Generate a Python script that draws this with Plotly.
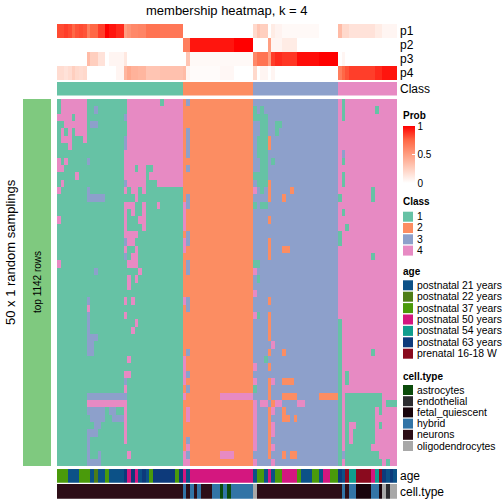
import plotly.graph_objects as go

W = H = 504
FONT = "Liberation Sans, Arial, Helvetica, sans-serif"

# ---------------- data ----------------
n_cols = 92
# consensus class of every sample (column)
column_class = ("1111111111111111111111111111111111"      # 34
                "2222222222222222222"                     # 19
                "33333333333333333333333"                 # 23
                "4444444444444444")                       # 16

p1 = [0.82, 0.82, 0.85, 0.82, 0.75, 0.80, 0.82, 0.80, 0.65, 0.75,
      0.75, 0.85, 0.85, 1.00, 0.95, 0.95, 0.90, 0.90, 0.50, 0.55,
      0.60, 0.60, 0.62, 0.62, 0.70, 0.70, 0.70, 0.70, 0.68, 0.68,
      0.68, 0.68, 0.68, 0.68,
      0, 0, 0, 0, 0, 0, 0, 0, 0, 0, 0, 0, 0, 0, 0, 0, 0, 0, 0,
      0.20, 0.30, 0.25, 0.25, 0.00, 0.10, 0.06, 0.06, 0.03, 0.03,
      0.03, 0.03, 0.03, 0.03, 0.03, 0.03, 0.03, 0.03, 0.00, 0.00,
      0.00, 0.00, 0.00,
      0.35, 0.20, 0.20, 0.15, 0.15, 0.15, 0.15, 0.15, 0.15, 0.15,
      0.10, 0.10, 0.05, 0.05, 0.05, 0.05]
p2 = [0.0, 0.0, 0.0, 0.0, 0.0, 0.0, 0.0, 0.0, 0.0, 0.0,
      0.0, 0.0, 0.0, 0.0, 0.0, 0.0, 0.0, 0.0, 0.0, 0.0,
      0.0, 0.0, 0.0, 0.0, 0.0, 0.0, 0.0, 0.0, 0.0, 0.0,
      0.0, 0.0, 0.0, 0.0,
      0.65, 0.65, 0.95, 0.95, 0.95, 0.95, 0.95, 0.95, 0.95, 0.95,
      0.95, 0.95, 0.95, 0.95, 1.00, 1.00, 1.00, 1.00, 1.00,
      0.00, 0.00, 0.00, 0.00, 0.50, 0.05, 0.05, 0.05, 0.10, 0.10,
      0.10, 0.10, 0.00, 0.00, 0.00, 0.00, 0.00, 0.00, 0.00, 0.00,
      0.00, 0.00, 0.00,
      0.0, 0.0, 0.0, 0.0, 0.0, 0.0, 0.0, 0.0, 0.0, 0.0,
      0.0, 0.0, 0.0, 0.0, 0.0, 0.0]
p3 = [0.00, 0.00, 0.00, 0.00, 0.00, 0.00, 0.00, 0.00, 0.35, 0.25,
      0.25, 0.15, 0.15, 0.00, 0.05, 0.05, 0.05, 0.05, 0.12, 0.00,
      0.00, 0.00, 0.00, 0.00, 0.00, 0.00, 0.00, 0.00, 0.00, 0.00,
      0.00, 0.00, 0.00, 0.00,
      0.00, 0.30, 0.03, 0.03, 0.03, 0.03, 0.03, 0.03, 0.03, 0.03,
      0.03, 0.03, 0.03, 0.03, 0.03, 0.03, 0.03, 0.03, 0.03,
      0.60, 0.70, 0.70, 0.70, 0.50, 0.85, 0.90, 0.90, 0.87, 0.87,
      0.87, 0.87, 0.97, 0.97, 0.97, 0.97, 0.97, 0.97, 1.00, 1.00,
      1.00, 1.00, 1.00,
      0.00, 0.05, 0.00, 0.00, 0.00, 0.00, 0.00, 0.00, 0.00, 0.00,
      0.00, 0.00, 0.00, 0.00, 0.00, 0.00]
p4 = [0.18, 0.18, 0.15, 0.18, 0.25, 0.20, 0.18, 0.20, 0.00, 0.00,
      0.00, 0.00, 0.00, 0.00, 0.00, 0.00, 0.05, 0.05, 0.38, 0.45,
      0.40, 0.40, 0.38, 0.38, 0.30, 0.30, 0.30, 0.30, 0.32, 0.32,
      0.32, 0.32, 0.32, 0.32,
      0.35, 0.05, 0.02, 0.02, 0.02, 0.02, 0.02, 0.02, 0.02, 0.02,
      0.04, 0.04, 0.04, 0.04, 0.00, 0.00, 0.00, 0.00, 0.00,
      0.20, 0.00, 0.05, 0.05, 0.00, 0.05, 0.00, 0.00, 0.00, 0.00,
      0.00, 0.00, 0.00, 0.00, 0.00, 0.00, 0.00, 0.00, 0.00, 0.00,
      0.00, 0.00, 0.00,
      0.65, 0.75, 0.80, 0.85, 0.85, 0.85, 0.85, 0.85, 0.85, 0.85,
      0.90, 0.90, 0.95, 0.95, 0.95, 0.95]

# class assignment in each of the 50 random samplings that differs from the consensus:
# (first row, last row, first column, last column, class)
deviations = [
    # class-1 samples
    (0, 1, 1, 7, 4), (0, 0, 19, 27, 4), (0, 0, 29, 33, 4), (1, 1, 10, 10, 3), (1, 6, 19, 33, 4),
    (2, 2, 0, 3, 4), (2, 2, 5, 7, 4), (2, 2, 18, 18, 3), (3, 3, 2, 7, 4), (3, 3, 9, 10, 3),
    (4, 4, 1, 1, 4), (4, 4, 3, 3, 4), (4, 4, 5, 7, 4), (5, 5, 1, 3, 4), (5, 5, 7, 7, 4),
    (5, 6, 18, 18, 3), (6, 6, 3, 3, 4), (7, 8, 18, 33, 4), (8, 8, 0, 0, 4), (8, 8, 2, 2, 4),
    (8, 8, 8, 8, 3), (9, 9, 0, 1, 4), (9, 9, 18, 20, 4), (9, 9, 22, 23, 4), (9, 9, 26, 33, 4),
    (10, 10, 5, 5, 4), (10, 10, 18, 23, 4), (10, 10, 25, 33, 4), (11, 11, 1, 1, 4),
    (11, 11, 18, 18, 3), (11, 11, 19, 23, 4), (11, 11, 27, 33, 4), (12, 12, 0, 0, 4),
    (12, 12, 8, 8, 3), (12, 12, 18, 18, 4), (12, 12, 20, 21, 4), (12, 12, 23, 23, 4),
    (13, 13, 8, 12, 3), (13, 13, 21, 21, 4), (14, 14, 18, 20, 4), (14, 14, 23, 23, 4),
    (14, 14, 27, 27, 4), (15, 15, 18, 18, 4), (15, 15, 20, 20, 4), (15, 15, 23, 23, 4),
    (16, 16, 0, 0, 4), (16, 16, 18, 18, 4), (16, 16, 22, 23, 4), (17, 17, 18, 18, 4),
    (17, 17, 23, 23, 4), (18, 18, 18, 21, 4), (19, 19, 18, 18, 3), (19, 19, 19, 20, 4),
    (20, 20, 18, 18, 4), (20, 20, 21, 21, 4), (21, 21, 18, 18, 3), (21, 21, 20, 21, 4),
    (22, 22, 0, 0, 4), (22, 22, 19, 21, 4), (23, 23, 10, 10, 3), (23, 23, 22, 22, 4),
    (24, 25, 19, 19, 4), (24, 24, 21, 21, 4), (27, 34, 8, 8, 3), (27, 27, 18, 18, 4),
    (27, 27, 20, 20, 4), (28, 28, 8, 8, 4), (29, 29, 18, 18, 4), (30, 30, 21, 21, 4),
    (31, 31, 20, 20, 4), (32, 32, 9, 10, 3), (33, 34, 9, 9, 3), (35, 35, 19, 19, 4),
    (37, 37, 18, 19, 4), (38, 38, 18, 18, 3), (39, 39, 18, 18, 4), (40, 40, 8, 18, 3),
    (41, 41, 8, 18, 4), (42, 42, 8, 12, 3), (42, 42, 14, 15, 3), (42, 46, 18, 18, 4),
    (43, 43, 9, 12, 3), (43, 43, 15, 17, 3), (44, 44, 10, 11, 3), (45, 45, 8, 10, 3),
    (46, 49, 8, 8, 3), (48, 48, 11, 11, 3), (48, 48, 19, 19, 4), (49, 49, 9, 11, 3),
    # class-2 samples
    (0, 0, 35, 35, 3), (4, 7, 35, 35, 3), (9, 9, 35, 35, 3), (13, 14, 35, 35, 3),
    (14, 17, 34, 34, 4), (18, 19, 35, 35, 3), (19, 20, 34, 34, 4), (22, 23, 35, 35, 3),
    (27, 27, 34, 34, 4), (27, 28, 35, 35, 3), (34, 34, 35, 35, 3), (35, 38, 34, 34, 4),
    (37, 37, 35, 35, 3), (39, 39, 35, 35, 3), (40, 40, 34, 34, 4), (40, 40, 44, 52, 4),
    (42, 43, 35, 35, 4), (46, 46, 35, 35, 3), (47, 47, 35, 35, 4), (48, 49, 34, 34, 4),
    (48, 48, 35, 35, 3), (49, 49, 35, 35, 4), (48, 48, 44, 47, 4),
    # class-3 samples
    (1, 1, 53, 53, 1), (1, 1, 55, 55, 1), (2, 2, 53, 56, 1), (3, 4, 55, 56, 1),
    (3, 3, 59, 60, 1), (4, 4, 59, 59, 1), (5, 7, 54, 56, 1), (5, 6, 57, 57, 2),
    (8, 9, 55, 56, 1), (8, 8, 58, 58, 1), (10, 10, 53, 56, 1), (11, 11, 54, 56, 1),
    (11, 13, 57, 57, 2), (12, 12, 53, 53, 4), (12, 12, 55, 55, 1), (12, 12, 63, 63, 2),
    (13, 13, 61, 61, 2), (14, 14, 53, 53, 1), (14, 14, 55, 56, 1), (16, 16, 57, 57, 2),
    (19, 21, 57, 57, 2), (20, 20, 61, 62, 2), (22, 22, 53, 54, 1), (23, 23, 53, 53, 4),
    (24, 24, 54, 54, 1), (26, 26, 53, 53, 4), (27, 27, 57, 57, 2), (29, 29, 53, 53, 4),
    (29, 29, 54, 54, 1), (29, 32, 57, 57, 2), (33, 33, 58, 58, 4), (34, 34, 57, 57, 2),
    (34, 34, 61, 61, 2), (35, 35, 56, 56, 1), (36, 36, 53, 53, 4), (36, 36, 57, 57, 2),
    (38, 38, 53, 53, 4), (38, 38, 57, 57, 2), (38, 38, 58, 58, 4), (38, 38, 61, 63, 2),
    (39, 39, 53, 53, 1), (39, 39, 57, 57, 2), (40, 40, 57, 57, 2), (40, 40, 61, 64, 2),
    (40, 40, 71, 75, 2), (41, 41, 53, 53, 4), (41, 41, 55, 56, 4), (41, 41, 58, 58, 2),
    (41, 41, 59, 60, 4), (41, 41, 65, 66, 4), (42, 42, 53, 53, 4), (42, 42, 57, 57, 2),
    (42, 42, 58, 58, 4), (42, 42, 61, 61, 2), (43, 43, 53, 53, 4), (43, 43, 57, 57, 2),
    (43, 43, 61, 62, 2), (43, 43, 64, 64, 2), (44, 45, 53, 53, 4), (44, 47, 57, 57, 2),
    (44, 45, 58, 58, 4), (46, 47, 53, 53, 4), (47, 47, 58, 58, 4), (48, 48, 57, 57, 2),
    (48, 48, 61, 61, 2), (48, 48, 63, 64, 2), (49, 49, 53, 53, 4), (49, 49, 58, 58, 4),
    # class-4 samples
    (0, 2, 77, 77, 1), (1, 1, 86, 86, 1), (7, 7, 77, 77, 3), (8, 8, 77, 77, 1),
    (10, 11, 77, 77, 1), (12, 13, 85, 85, 1), (13, 13, 76, 76, 1), (15, 15, 77, 77, 1),
    (17, 17, 78, 78, 1), (18, 19, 76, 76, 1), (21, 21, 85, 85, 1), (30, 49, 76, 76, 1),
    (34, 34, 85, 85, 1), (37, 38, 78, 78, 1), (40, 41, 78, 87, 1), (41, 41, 89, 91, 1),
    (42, 42, 78, 85, 1), (42, 42, 87, 87, 1), (43, 43, 78, 85, 1), (44, 44, 78, 78, 1),
    (44, 44, 81, 85, 1), (44, 44, 87, 87, 1), (45, 46, 78, 78, 1), (45, 46, 80, 85, 1),
    (47, 47, 78, 84, 1), (48, 48, 77, 77, 3), (48, 48, 78, 86, 1), (49, 49, 78, 87, 1),
    (49, 49, 89, 89, 1),
]

age_levels = ["postnatal 21 years", "postnatal 22 years", "postnatal 37 years",
              "postnatal 50 years", "postnatal 54 years", "postnatal 63 years",
              "prenatal 16-18 W"]
age_colors = ["#0C5187", "#4E7D18", "#4A9A0B", "#D4177F", "#109E8E", "#0D3A7B", "#8A0A1E"]
# A..G index into age_levels
sample_age = ("CCCAAACCCABAACAAAAFDFDAFACFFFFFFCF"
              "DADDDDDDDDDDDDDDDDD"
              "ACCADACCDDDDCAAACCADDCC"
              "FAGEEGGGGDEGFAFA")

cell_levels = ["astrocytes", "endothelial", "fetal_quiescent", "hybrid", "neurons",
               "oligodendrocytes"]
cell_colors = ["#0B4B0B", "#2C2C30", "#18040C", "#3274A6", "#2D0E17", "#A8A8A8"]
sample_cell = ("nnnnnnnnnnnnnnnnnnnnnnnnnnnnnnnnnn"
               "hnhnhnnnhhahahhhhhh"
               "onnnnnnnnnnnnnnnnnnnnnn"
               "nhnhhffffhhfoeoo")

class_levels = ["1", "2", "3", "4"]
class_colors = ["#66C2A5", "#FC8D62", "#8DA0CB", "#E78AC3"]

n_rows = 50
assert len(column_class) == n_cols and len(sample_age) == n_cols and len(sample_cell) == n_cols
for arr in (p1, p2, p3, p4):
    assert len(arr) == n_cols, len(arr)

# ---------------- build matrices ----------------
membership = [[int(c) for c in column_class] for _ in range(n_rows)]
for r0, r1, c0, c1, k in deviations:
    for r in range(r0, r1 + 1):
        for c in range(c0, c1 + 1):
            membership[r][c] = k

age_idx = [["ABCDEFG".index(a) for a in sample_age]]
cell_idx = [["aefhno".index(c) for c in sample_cell]]
class_row = [[int(c) for c in column_class]]


def discrete(colors):
    n = len(colors)
    cs = []
    for i, c in enumerate(colors):
        cs.append([i / n, c])
        cs.append([(i + 1) / n, c])
    return cs


prob_scale = [[0, "#FFFFFF"], [0.25, "#FFCFBF"], [0.5, "#FF9E81"], [0.75, "#FF6846"], [1, "#FF0000"]]

cols = list(range(n_cols))


def px(x):
    return x / W


def py(y):
    return 1 - y / H


fig = go.Figure()

# probability rows
fig.add_trace(go.Heatmap(z=[p1, p2, p3, p4], x=cols, y=["p1", "p2", "p3", "p4"],
                         colorscale=prob_scale, zmin=0, zmax=1, xaxis="x", yaxis="y2",
                         hoverinfo="skip",
                         colorbar=dict(x=px(403), xanchor="left", y=py(154.5), yanchor="middle",
                                       len=57 / H, lenmode="fraction", thickness=12,
                                       outlinewidth=0, xpad=0, ypad=0,
                                       tickvals=[0, 0.5, 1], ticktext=["0", "0.5", "1"],
                                       ticks="inside", tickcolor="white", ticklen=3,
                                       tickfont=dict(size=10, family=FONT, color="black"))))
# class row
fig.add_trace(go.Heatmap(z=class_row, x=cols, y=["Class"], colorscale=discrete(class_colors),
                         zmin=0.5, zmax=4.5, showscale=False, xaxis="x", yaxis="y3",
                         hoverinfo="skip"))
# main membership heatmap
fig.add_trace(go.Heatmap(z=membership, x=cols, y=list(range(n_rows)),
                         colorscale=discrete(class_colors), zmin=0.5, zmax=4.5,
                         showscale=False, xaxis="x", yaxis="y", hoverinfo="skip"))
# age row
fig.add_trace(go.Heatmap(z=age_idx, x=cols, y=["age"], colorscale=discrete(age_colors),
                         zmin=-0.5, zmax=6.5, showscale=False, xaxis="x", yaxis="y4",
                         hoverinfo="skip"))
# cell type row
fig.add_trace(go.Heatmap(z=cell_idx, x=cols, y=["cell.type"], colorscale=discrete(cell_colors),
                         zmin=-0.5, zmax=5.5, showscale=False, xaxis="x", yaxis="y5",
                         hoverinfo="skip"))

hidden = dict(showgrid=False, zeroline=False, showticklabels=False, ticks="", showline=False)
fig.update_layout(
    width=W, height=H, autosize=False,
    margin=dict(l=0, r=0, t=0, b=0),
    paper_bgcolor="white", plot_bgcolor="white",
    font=dict(family=FONT, color="black"),
    showlegend=False,
    xaxis=dict(domain=[px(57), px(397)], range=[-0.5, n_cols - 0.5], anchor="y", **hidden),
    yaxis=dict(domain=[py(466), py(99)], range=[n_rows - 0.5, -0.5], **hidden),
    yaxis2=dict(domain=[py(80), py(24)], anchor="x", autorange="reversed", **hidden),
    yaxis3=dict(domain=[py(95.5), py(82)], anchor="x", **hidden),
    yaxis4=dict(domain=[py(482.7), py(469)], anchor="x", **hidden),
    yaxis5=dict(domain=[py(498.7), py(484)], anchor="x", **hidden),
)

ann = []
shapes = []


def text(x, y, s, size, xanchor="left", bold=False, angle=0):
    ann.append(dict(x=px(x), y=py(y), xref="paper", yref="paper", text=f"<b>{s}</b>" if bold else s,
                    showarrow=False, xanchor=xanchor, yanchor="middle", textangle=angle,
                    borderpad=0, font=dict(size=size, family=FONT, color="black")))


# title
text(227, 10, "membership heatmap, k = 4", 13, xanchor="center")
# row labels
for lab, y in zip(["p1", "p2", "p3", "p4", "Class"], [31, 45, 59, 73, 88.7]):
    text(399, y, lab, 12)
text(399, 476, "age", 12)
text(399, 491.5, "cell.type", 12)

# left row title
shapes.append(dict(type="rect", xref="paper", yref="paper", x0=px(23), x1=px(51),
                   y0=py(466), y1=py(99), fillcolor="#7FC97F", line=dict(width=0)))
text(37.5, 282.5, "top 1142 rows", 10, xanchor="center", angle=-90)
text(10, 252, "50 x 1 random samplings", 13, xanchor="center", angle=-90)

# legends
text(402, 116, "Prob", 10, bold=True)


def legend(title, title_y, labels, colors, first_y, step=11.3):
    text(402, title_y, title, 10, bold=True)
    for i, (lab, col) in enumerate(zip(labels, colors)):
        yc = first_y + i * step
        shapes.append(dict(type="rect", xref="paper", yref="paper", x0=px(403), x1=px(413),
                           y0=py(yc + 5), y1=py(yc - 5), fillcolor=col, line=dict(width=0)))
        text(416, yc, lab, 10.4)


legend("Class", 201.7, class_levels, class_colors, 216.7)
legend("age", 271.7, age_levels, age_colors, 285.3, 11.4)
legend("cell.type", 376, cell_levels, cell_colors, 390, 11.2)

fig.update_layout(annotations=ann, shapes=shapes)
fig.write_html("out.html", config={"displayModeBar": False},
               post_script="document.body.style.margin='0';document.body.style.padding='0';")
